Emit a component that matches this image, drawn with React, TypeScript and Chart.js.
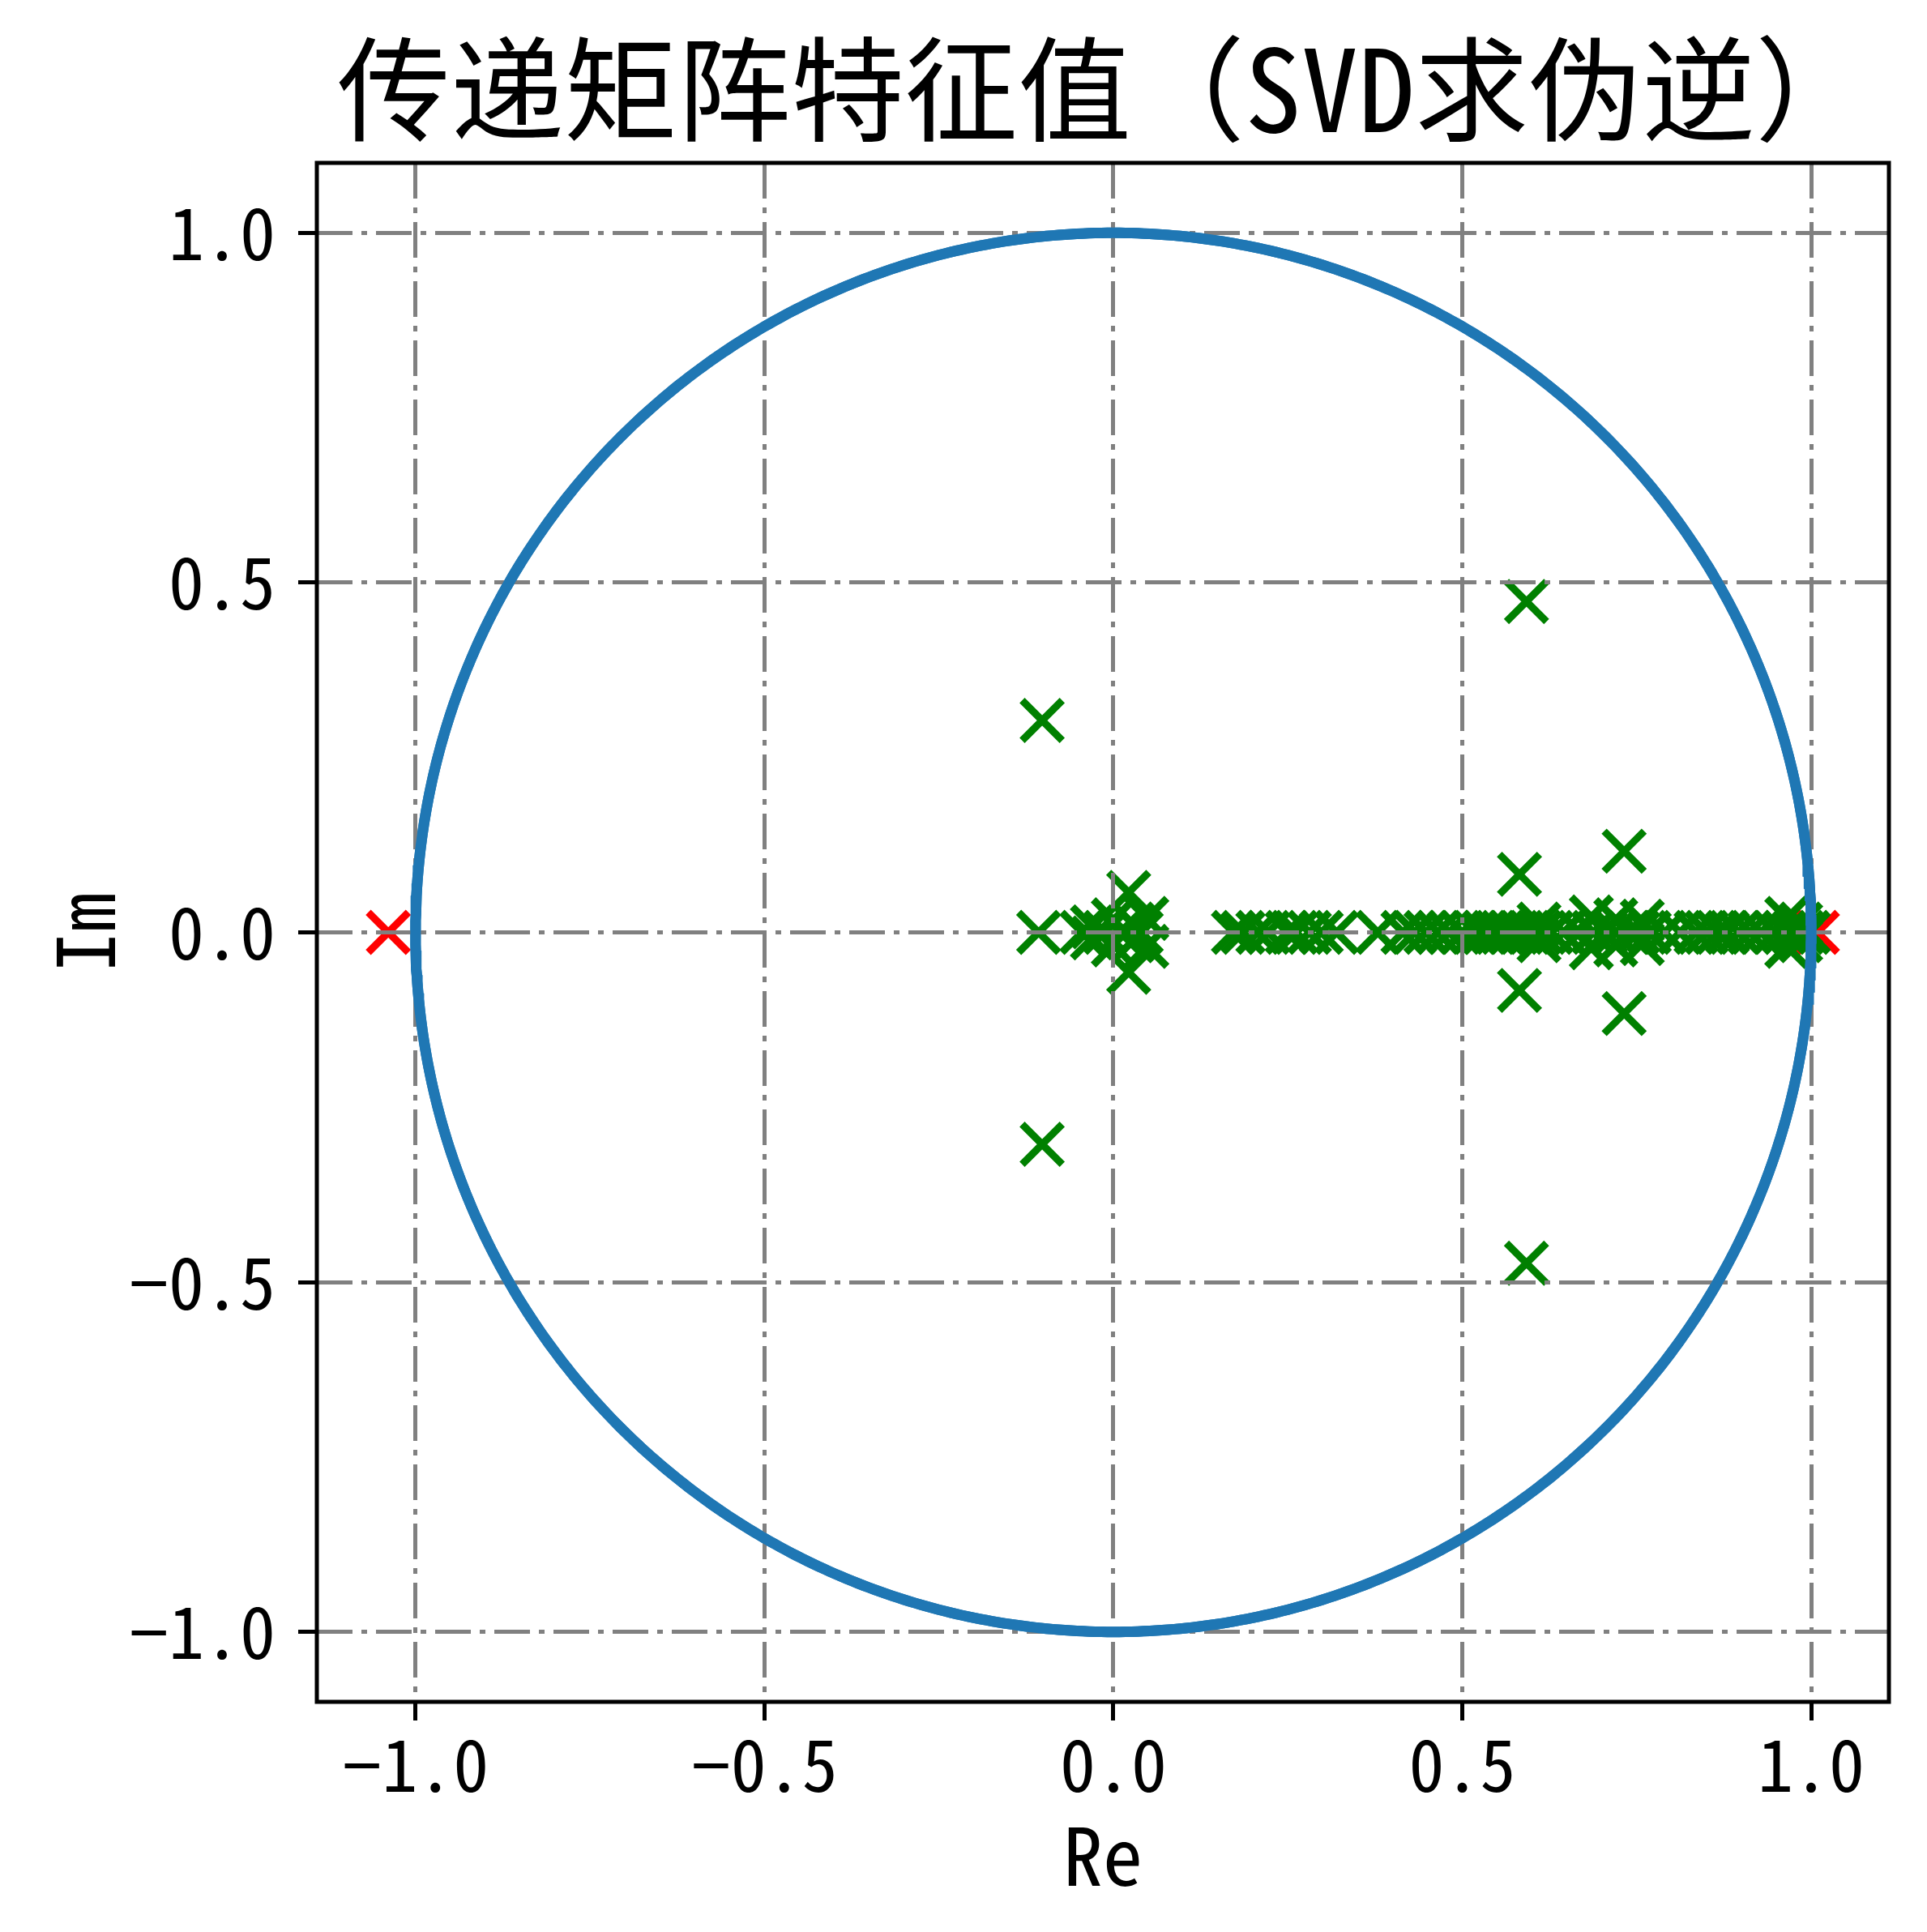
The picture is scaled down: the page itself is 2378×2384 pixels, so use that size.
import { useEffect, useRef } from 'react';
import { Chart, registerables } from 'chart.js';

Chart.register(...registerables);

// eigenvalues inside the unit circle (green), real and imaginary parts
const stableRe = [
  -0.102, -0.102, -0.107, -0.045, -0.03, -0.03, -0.012, 0.0, 0.0, 0.01,
  0.022, 0.022, 0.028, 0.028, 0.04, 0.048, 0.048,
  0.172, 0.186, 0.207, 0.222, 0.249, 0.262, 0.281, 0.298, 0.32,
  0.379, 0.415, 0.432, 0.448, 0.465, 0.481,
  0.5, 0.518, 0.532, 0.545, 0.558, 0.57, 0.585, 0.598, 0.612, 0.628, 0.645,
  0.668, 0.688, 0.705, 0.72, 0.738, 0.752, 0.768, 0.79, 0.812,
  0.835, 0.85, 0.866, 0.88, 0.896, 0.912, 0.928, 0.948, 0.962, 0.975, 0.988, 0.996,
  0.592, 0.592, 0.582, 0.582, 0.732, 0.732, 0.685, 0.685, 0.72, 0.72,
  0.758, 0.758, 0.61, 0.61, 0.965, 0.965, 0.985, 0.985,
];
const stableIm = [
  0.303, -0.303, 0, 0, 0.008, -0.008, 0, 0.018, -0.018, 0,
  0.057, -0.057, 0.012, -0.012, 0, 0.02, -0.02,
  0, 0, 0, 0, 0, 0, 0, 0, 0,
  0, 0, 0, 0, 0, 0,
  0, 0, 0, 0, 0, 0, 0, 0, 0, 0, 0,
  0, 0, 0, 0, 0, 0, 0, 0, 0,
  0, 0, 0, 0, 0, 0, 0, 0, 0, 0, 0, 0,
  0.473, -0.473, 0.083, -0.083, 0.116, -0.116, 0.022, -0.022, 0.018, -0.018,
  0.016, -0.016, 0.012, -0.012, 0.02, -0.02, 0.012, -0.012,
];

// eigenvalues outside the unit circle (red)
const unstableRe = [-1.039, 1.009];
const unstableIm = [0, 0];

const xTicks = [-1, -0.5, 0, 0.5, 1];
const yTicks = [-1, -0.5, 0, 0.5, 1];

const titleText = '传递矩阵特征值（SVD求伪逆）';
const FONT = '"Noto Sans Mono CJK SC", "Noto Sans CJK SC", sans-serif';

const fmt = (v: number | string) => {
  const n = Number(v);
  const s = Math.abs(n).toFixed(1);
  return n < 0 ? '\u2212' + s : s;
};

// redraw the unit circle above the grid, then the axes frame
const framePlugin = {
  id: 'frame',
  afterDraw(chart: any) {
    const { ctx, chartArea } = chart;
    const { left, top, right, bottom } = chartArea;
    ctx.save();
    ctx.beginPath();
    ctx.rect(left, top, right - left, bottom - top);
    ctx.clip();
    chart.getDatasetMeta(0).controller.draw();
    ctx.restore();
    ctx.save();
    ctx.strokeStyle = '#000';
    ctx.lineWidth = 5;
    ctx.strokeRect(left, top, right - left, bottom - top);
    ctx.restore();
  },
};

export default function App() {
  const canvasRef = useRef<HTMLCanvasElement>(null);

  useEffect(() => {
    if (!canvasRef.current) return;
    const ctx = canvasRef.current.getContext('2d');
    if (!ctx) return;

    // unit circle |z| = 1
    const circle = Array.from({ length: 721 }, (_, i) => {
      const t = (i / 720) * 2 * Math.PI;
      return { x: Math.cos(t), y: Math.sin(t) };
    });

    const gridOpts = {
      color: '#808080',
      lineWidth: 5,
      z: 1,
      tickLength: 23,
      tickColor: '#000',
      tickWidth: 5,
    };

    const chart = new Chart(ctx, {
      type: 'scatter',
      data: {
        datasets: [
          {
            label: 'unit circle',
            data: circle,
            showLine: true,
            borderColor: '#1f77b4',
            backgroundColor: '#1f77b4',
            borderWidth: 13,
            pointRadius: 0,
            tension: 0,
          },
          {
            label: 'stable',
            data: stableRe.map((re, i) => ({ x: re, y: stableIm[i] })),
            pointStyle: 'crossRot',
            pointRadius: 35,
            pointBorderWidth: 9,
            pointBorderColor: '#008000',
            pointBackgroundColor: '#008000',
          },
          {
            label: 'unstable',
            data: unstableRe.map((re, i) => ({ x: re, y: unstableIm[i] })),
            pointStyle: 'crossRot',
            pointRadius: 35,
            pointBorderWidth: 9,
            pointBorderColor: '#ff0000',
            pointBackgroundColor: '#ff0000',
          },
        ],
      },
      options: {
        responsive: false,
        devicePixelRatio: 1,
        animation: false,
        events: [],
        layout: { padding: { left: 0, right: 47, top: 0, bottom: 0 } },
        scales: {
          x: {
            type: 'linear',
            position: 'bottom',
            min: -1.1414,
            max: 1.1114,
            afterBuildTicks: (s: any) => {
              s.ticks = xTicks.map(v => ({ value: v }));
            },
            afterFit: (s: any) => {
              s.height = 284;
            },
            grid: gridOpts,
            border: { display: false, dash: [44, 11, 7, 11] },
            ticks: {
              color: '#000',
              padding: 2,
              maxRotation: 0,
              autoSkip: false,
              font: { family: FONT, size: 88, lineHeight: 1.2 },
              callback: fmt,
            },
            title: {
              display: true,
              text: 'Re',
              color: '#000',
              font: { family: FONT, size: 98, lineHeight: 1.2 },
              padding: { top: 0, bottom: 35 },
            },
          },
          y: {
            type: 'linear',
            position: 'left',
            min: -1.1,
            max: 1.1,
            afterBuildTicks: (s: any) => {
              s.ticks = yTicks.map(v => ({ value: v }));
            },
            afterFit: (s: any) => {
              s.width = 391;
            },
            grid: gridOpts,
            border: { display: false, dash: [44, 11, 7, 11] },
            ticks: {
              color: '#000',
              padding: 28,
              autoSkip: false,
              font: { family: FONT, size: 88, lineHeight: 1.2 },
              callback: fmt,
            },
            title: {
              display: true,
              text: 'Im',
              color: '#000',
              font: { family: FONT, size: 98, lineHeight: 1.2 },
              padding: { top: 46, bottom: 0 },
            },
          },
        },
        plugins: {
          legend: { display: false },
          tooltip: { enabled: false },
          title: {
            display: true,
            text: titleText,
            fullSize: false,
            color: '#000',
            font: { family: FONT, size: 140, lineHeight: 1.2, weight: 'normal' },
            padding: { top: 26, bottom: 7 },
          },
        },
      },
      plugins: [framePlugin],
    } as any);

    return () => {
      chart.destroy();
    };
  }, []);

  return (
    <div style={{ position: 'absolute', left: 0, top: 0, width: 2378, height: 2384, background: '#fff' }}>
      <canvas ref={canvasRef} width={2378} height={2384} />
    </div>
  );
}
